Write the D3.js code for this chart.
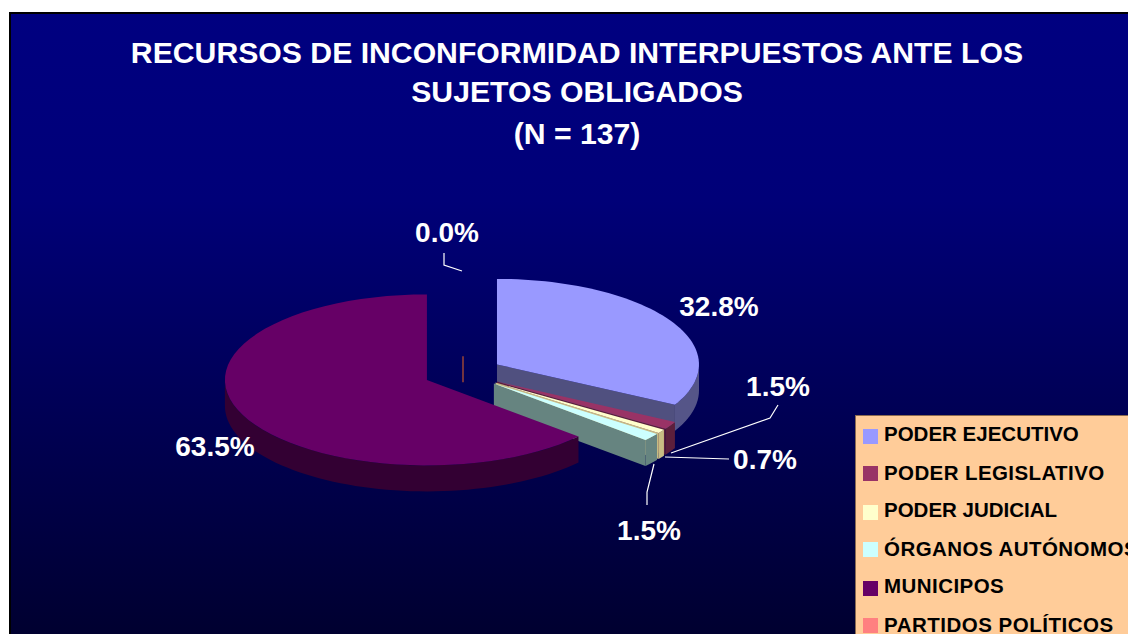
<!DOCTYPE html>
<html><head><meta charset="utf-8">
<script src="https://cdn.jsdelivr.net/npm/d3@7"></script>
<style>html,body{margin:0;padding:0;background:#fff;overflow:hidden}svg{display:block}text{font-family:"Liberation Sans",Arial,sans-serif;font-weight:bold}</style>
</head><body><svg id="c" width="1128" height="634"></svg>
<script>
const titleLines = ["RECURSOS DE INCONFORMIDAD INTERPUESTOS ANTE LOS","SUJETOS OBLIGADOS","(N = 137)"];
const categories = ["PODER EJECUTIVO","PODER LEGISLATIVO","PODER JUDICIAL","ÓRGANOS AUTÓNOMOS","MUNICIPOS","PARTIDOS POLÍTICOS"];
const counts = [45,2,1,2,87,0];
const topColors = ["#9999ff","#993366","#ffffcc","#ccffff","#660066","#ff8080"];
const wallColors = ["#50507f","#5c1f3c","#c8bc84","#668480","#330033","#c0552c"];
const rimColors = ["#555588","#5c1f3c","#c8bc84","#668480","#330033","#c0552c"];
const labelPos = [[719,316],[778,396],[765,469],[649,540],[215,456],[447,242]];
const legendTracking = [0,0.4,0,0.45,0.45,0.5];
const leaders = [null,
  [[778,405],[770,418],[671,453]],
  [[729,459],[665,457]],
  [[654,464],[647,492],[647,505]],
  null,
  [[444,253],[444,265],[462,271]]];

const W=1128,H=634;
const svg=d3.select("#c");
const defs=svg.append("defs");
const g=defs.append("linearGradient").attr("id","bg").attr("x1",0).attr("x2",0).attr("y1",0).attr("y2",1);
g.append("stop").attr("offset","0%").attr("stop-color","#000080");
g.append("stop").attr("offset","30%").attr("stop-color","#000078");
g.append("stop").attr("offset","100%").attr("stop-color","#000030");
svg.append("rect").attr("x",9).attr("y",12).attr("width",W-9).attr("height",H-12).attr("fill","#000");
svg.append("rect").attr("x",11).attr("y",14).attr("width",W-11).attr("height",H-14).attr("fill","url(#bg)");

const title=svg.append("g").attr("fill","#fff").attr("text-anchor","middle").attr("font-size",30.2);
title.selectAll("text").data(titleLines).join("text").attr("x",577).attr("y",(d,i)=>[63,102,144][i]).text(d=>d);

// pie geometry
const cx=463,cy=373,rx=202,ry=85.5,depth=26,explode=0.196;
const px=d3.scaleLinear().domain([-1,1]).range([cx-rx,cx+rx]);
const py=d3.scaleLinear().domain([-1,1]).range([cy-ry,cy+ry]);
const pie=d3.pie().sort(null).value(d=>d);
const arcs=pie(counts);
const total=d3.sum(counts);
const fmt=d3.format(".1%");
const line=d3.line();
const lay=svg.append("g");
arcs.forEach((a,i)=>{
  const mid=(a.startAngle+a.endAngle)/2;
  const ex=explode*Math.sin(mid), ey=-explode*Math.cos(mid);
  const P=t=>[px(ex+Math.sin(t)),py(ey-Math.cos(t))];
  const O=[px(ex),py(ey)];
  const down=p=>[p[0],p[1]+depth];
  const steps=t0=>d3.range(0,61).map(k=>t0[0]+(t0[1]-t0[0])*k/60);
  if(a.endAngle===a.startAngle){
    const e=O;
    lay.append("path").attr("d",line([e,down(e)])).attr("stroke",wallColors[i]).attr("stroke-width",1.2).attr("fill","none");
    return;
  }
  // outer rim (front half only)
  const r0=Math.max(a.startAngle,Math.PI/2), r1=Math.min(a.endAngle,3*Math.PI/2);
  if(r1>r0){
    const pts=steps([r0,r1]).map(P);
    lay.append("path").attr("d",line(pts.concat(pts.slice().reverse().map(down)))+"Z").attr("fill",rimColors[i]);
  }
  // end wall
  if(a.endAngle<Math.PI*1.5){
    const e=P(a.endAngle);
    lay.append("path").attr("d",line([O,e,down(e),down(O)])+"Z").attr("fill",wallColors[i]);
  }
  // top
  lay.append("path").attr("d",line([O].concat(steps([a.startAngle,a.endAngle]).map(P)))+"Z").attr("fill",topColors[i]);
});

// leader lines
svg.append("g").selectAll("path").data(leaders.filter(Boolean)).join("path")
  .attr("d",d=>line(d)).attr("fill","none").attr("stroke","#fff").attr("stroke-width",1.2);

// data labels
svg.append("g").attr("fill","#fff").attr("text-anchor","middle").attr("font-size",28)
  .selectAll("text").data(counts).join("text")
  .attr("x",(d,i)=>labelPos[i][0]).attr("y",(d,i)=>labelPos[i][1])
  .text(d=>fmt(d/total));

// legend
const legendBase=[441,480,517,556,593,632];
const legendY=[429,466,505,542,581,618];
const lg=svg.append("g");
lg.append("rect").attr("x",855.5).attr("y",415.5).attr("width",W-855).attr("height",H-415).attr("fill","#ffcc99").attr("stroke","#8a6a50");
categories.forEach((c,i)=>{
  lg.append("rect").attr("x",863).attr("y",legendY[i]).attr("width",15).attr("height",15).attr("fill",topColors[i]);
  lg.append("text").attr("x",884).attr("y",legendBase[i]).attr("font-size",20.5).attr("letter-spacing",legendTracking[i]).attr("fill","#000").text(c);
});
</script></body></html>
